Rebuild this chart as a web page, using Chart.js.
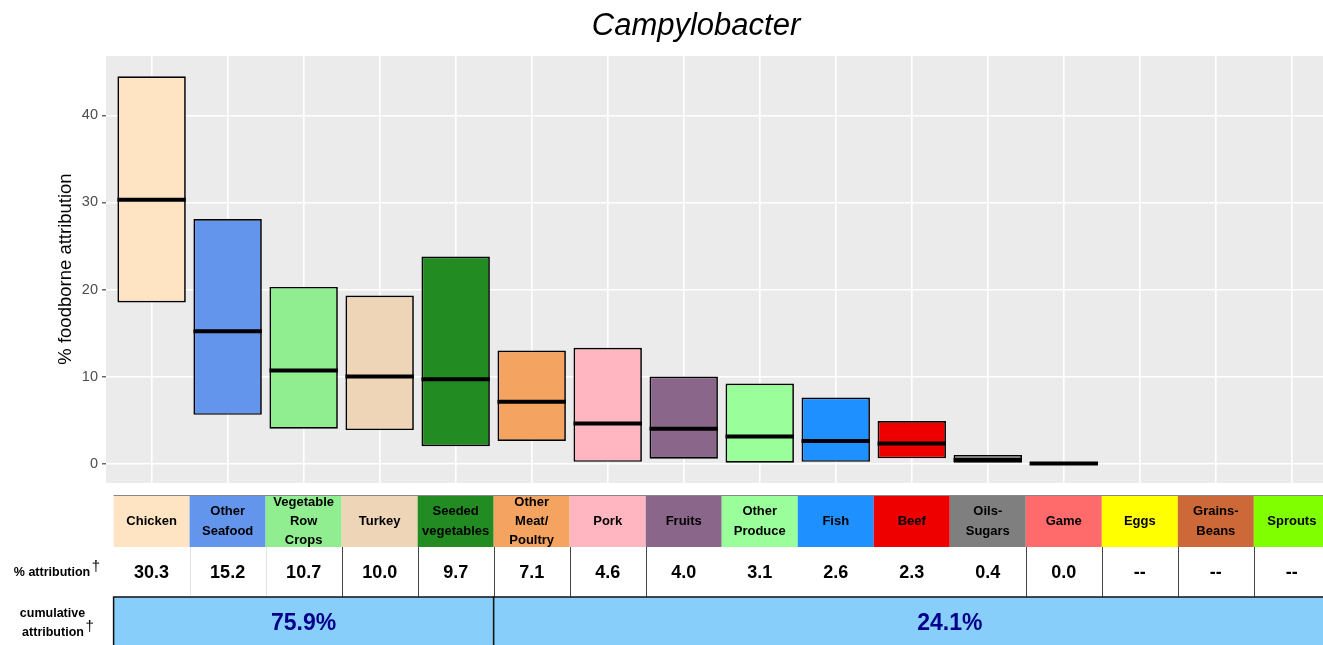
<!DOCTYPE html>
<html>
<head>
<meta charset="utf-8">
<script src="https://cdn.jsdelivr.net/npm/chart.js@4.4.1/dist/chart.umd.min.js"></script>
<style>
html,body{margin:0;padding:0;background:#fff;overflow:hidden;}
#wrap{position:relative;width:1323px;height:645px;}
</style>
</head>
<body>
<div id="wrap"><canvas id="c" width="1323" height="645"></canvas></div>
<script>
// ---- data ----
const categories = ['Chicken','Other\nSeafood','Vegetable\nRow\nCrops','Turkey','Seeded\nvegetables','Other\nMeat/\nPoultry','Pork','Fruits','Other\nProduce','Fish','Beef','Oils-\nSugars','Game','Eggs','Grains-\nBeans','Sprouts'];
const boxLow    = [18.5, 5.6, 4.0, 3.85, 2.0, 2.6, 0.2, 0.55, 0.1, 0.2, 0.6, 0.0, 0.0, null, null, null];
const boxHigh   = [44.5, 28.1, 20.3, 19.3, 23.8, 13.0, 13.3, 10.0, 9.2, 7.6, 4.9, 1.0, 0.0, null, null, null];
const medians   = [30.3, 15.2, 10.7, 10.0, 9.7, 7.1, 4.6, 4.0, 3.1, 2.6, 2.3, 0.4, 0.0, null, null, null];
const catColors = ['#FFE4C4','#6495ED','#90EE90','#EED5B7','#228B22','#F4A460','#FFB6C1','#8B668B','#9AFF9A','#1E90FF','#EE0000','#7F7F7F','#FF6A6A','#FFFF00','#CD6839','#7FFF00'];
const yTicks = [0, 10, 20, 30, 40];
const cumulativeLabels = ['75.9%', '24.1%'];
const cumulativeSpans = [[0, 4], [5, 16]];
const titleText = 'Campylobacter';
const yTitle = '% foodborne attribution';

const FONT = "'Liberation Sans', Arial, sans-serif";

const boxData = categories.map((c, i) => ({x: i, y: boxLow[i] === null ? null : [boxLow[i], boxHigh[i]]}));
const medData = categories.map((c, i) => ({x: i, y: medians[i]}));

const bgPlugin = {
  id: 'panelBg',
  beforeDraw(chart) {
    const {ctx, chartArea: a} = chart;
    ctx.save();
    ctx.fillStyle = '#EBEBEB';
    ctx.fillRect(a.left, a.top, a.right - a.left, a.bottom - a.top);
    ctx.restore();
  }
};

const decorPlugin = {
  id: 'decor',
  afterDraw(chart) {
    const ctx = chart.ctx;
    const xs = chart.scales.x;
    const slot = xs.getPixelForValue(1) - xs.getPixelForValue(0);
    const left = i => xs.getPixelForValue(i) - slot / 2;
    ctx.save();
    // title
    ctx.fillStyle = '#000';
    ctx.font = 'italic 31px ' + FONT;
    ctx.textAlign = 'center';
    ctx.textBaseline = 'alphabetic';
    ctx.fillText(titleText, 696, 35);
    // y title
    ctx.save();
    ctx.translate(66, 269);
    ctx.rotate(-Math.PI / 2);
    ctx.font = '18.5px ' + FONT;
    ctx.textBaseline = 'middle';
    ctx.fillText(yTitle, 0, 0);
    ctx.restore();

    const H0 = 495, H1 = 547, V1 = 597, C1 = 652;
    // header cells
    categories.forEach((c, i) => {
      const x0 = left(i);
      ctx.fillStyle = catColors[i];
      ctx.fillRect(x0, H0, slot, H1 - H0);
      ctx.save();
      ctx.beginPath();
      ctx.rect(x0, H0, slot, H1 - H0);
      ctx.clip();
      ctx.fillStyle = '#000';
      ctx.font = 'bold 13px ' + FONT;
      ctx.textAlign = 'center';
      ctx.textBaseline = 'middle';
      const lines = c.split('\n');
      const lh = 19.3;
      const cy = 521.5;
      lines.forEach((ln, k) => {
        ctx.fillText(ln, x0 + slot / 2, cy + (k - (lines.length - 1) / 2) * lh);
      });
      ctx.restore();
      // values
      ctx.fillStyle = '#000';
      ctx.font = 'bold 18px ' + FONT;
      ctx.textAlign = 'center';
      ctx.textBaseline = 'middle';
      const v = medians[i] === null ? '--' : medians[i].toFixed(1);
      ctx.fillText(v, x0 + slot / 2, 573);
    });
    // header top line
    ctx.strokeStyle = '#888';
    ctx.lineWidth = 1;
    ctx.beginPath();
    ctx.moveTo(left(0), H0 + 0.5);
    ctx.lineTo(1323, H0 + 0.5);
    ctx.stroke();
    // value row separators
    const lightSep = [1, 2];
    const darkSep = [3, 4, 5, 6, 7, 12, 13, 14, 15];
    ctx.strokeStyle = '#E3E3E3';
    lightSep.forEach(i => {
      ctx.beginPath(); ctx.moveTo(Math.round(left(i)) + 0.5, H1); ctx.lineTo(Math.round(left(i)) + 0.5, V1); ctx.stroke();
    });
    ctx.strokeStyle = '#444';
    darkSep.forEach(i => {
      ctx.beginPath(); ctx.moveTo(Math.round(left(i)) + 0.5, H1); ctx.lineTo(Math.round(left(i)) + 0.5, V1); ctx.stroke();
    });
    // cumulative row
    cumulativeSpans.forEach((sp, k) => {
      const x0 = left(sp[0]);
      const x1 = left(sp[1]) + slot;
      ctx.fillStyle = '#87CEFA';
      ctx.fillRect(x0, V1, x1 - x0, C1 - V1);
      ctx.strokeStyle = '#111';
      ctx.lineWidth = 1.5;
      ctx.strokeRect(x0, V1, x1 - x0, C1 - V1);
      ctx.fillStyle = '#00008B';
      ctx.font = 'bold 23px ' + FONT;
      ctx.textAlign = 'center';
      ctx.textBaseline = 'middle';
      ctx.fillText(cumulativeLabels[k], (x0 + x1) / 2, 624);
    });
    // row labels
    ctx.fillStyle = '#000';
    const drawWithDagger = (txt, cx, cy) => {
      ctx.font = 'bold 12.5px ' + FONT;
      ctx.textAlign = 'center';
      ctx.textBaseline = 'middle';
      ctx.fillText(txt, cx, cy);
      const w = ctx.measureText(txt).width;
      ctx.font = '15px ' + FONT;
      ctx.textAlign = 'left';
      ctx.fillText('\u2020', cx + w / 2 + 1.5, cy - 6);
    };
    drawWithDagger('% attribution', 52, 573);
    ctx.font = 'bold 12.5px ' + FONT;
    ctx.textAlign = 'center';
    ctx.textBaseline = 'middle';
    ctx.fillText('cumulative', 52.5, 614);
    drawWithDagger('attribution', 53, 633);
    ctx.restore();
  }
};

new Chart(document.getElementById('c'), {
  data: {
    datasets: [
      {
        type: 'scatter',
        data: medData,
        order: 0,
        pointStyle: 'line',
        pointRadius: 34.2,
        pointHoverRadius: 34.2,
        borderColor: '#000',
        backgroundColor: '#000',
        pointBorderWidth: 4,
        borderWidth: 4
      },
      {
        type: 'bar',
        data: boxData,
        order: 1,
        backgroundColor: catColors,
        borderColor: '#000',
        borderWidth: 1.7,
        borderSkipped: false,
        barPercentage: 0.9,
        categoryPercentage: 1.0,
        grouped: false
      }
    ]
  },
  options: {
    responsive: false,
    animation: false,
    events: [],
    layout: {autoPadding: false, padding: {top: 56, bottom: 162, left: 0, right: 0}},
    plugins: {legend: {display: false}, tooltip: {enabled: false}, title: {display: false}},
    scales: {
      x: {
        type: 'linear',
        offset: false,
        min: -0.6,
        max: 15.41,
        afterBuildTicks: s => { s.ticks = categories.map((c, i) => ({value: i})); },
        afterFit: s => { s.height = 0; },
        ticks: {display: false},
        grid: {color: '#FFFFFF', lineWidth: 1.6, drawTicks: false, offset: false},
        border: {display: false}
      },
      y: {
        type: 'linear',
        min: -2.23,
        max: 46.83,
        afterBuildTicks: s => { s.ticks = yTicks.map(v => ({value: v})); },
        afterFit: s => { s.width = 106; },
        ticks: {color: '#4D4D4D', font: {family: FONT, size: 14.5}, padding: 4},
        grid: {color: '#FFFFFF', lineWidth: 1.6, drawTicks: true, tickLength: 4, tickColor: '#333333', tickWidth: 1.1},
        border: {display: false}
      }
    }
  },
  plugins: [bgPlugin, decorPlugin]
});
</script>
</body>
</html>
